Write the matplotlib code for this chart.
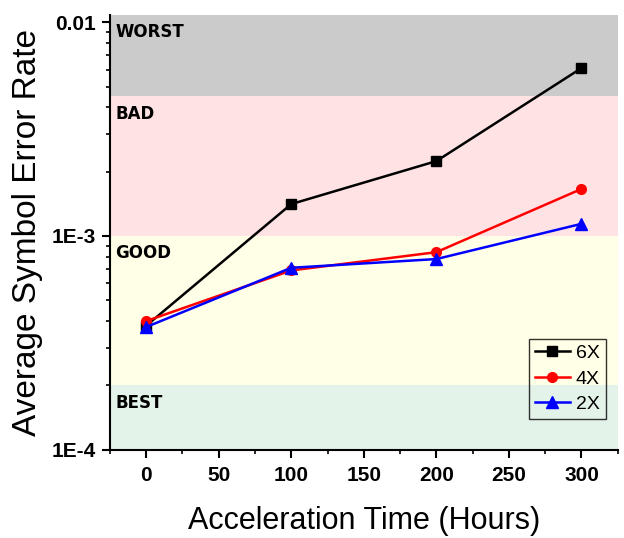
import matplotlib
matplotlib.use("Agg")
import matplotlib.pyplot as plt
from matplotlib.ticker import FixedLocator, FixedFormatter, MultipleLocator, LogLocator, NullFormatter

# acceleration time (hours) and average symbol error rate per speed-up factor
hours = [0, 100, 200, 300]
ser_6x = [3.8e-4, 1.41e-3, 2.24e-3, 6.1e-3]
ser_4x = [4.0e-4, 6.9e-4, 8.4e-4, 1.66e-3]
ser_2x = [3.75e-4, 7.1e-4, 7.8e-4, 1.14e-3]

# quality zones (lower edge, upper edge, label, colour)
zone_names = ["WORST", "BAD", "GOOD", "BEST"]
zone_edges = [(4.5e-3, 0.0108), (1e-3, 4.5e-3), (2e-4, 1e-3), (1e-4, 2e-4)]
zone_colors = ["#cbcbcb", "#ffe3e4", "#fffee6", "#e3f3ea"]

plt.rcParams['font.family'] = ['Liberation Sans', 'DejaVu Sans']

fig = plt.figure(figsize=(6.24, 5.38), dpi=100)
ax = fig.add_axes([0.176, 0.164, 0.814, 0.808])

xmin, xmax = -25, 325
for name, (lo, hi), col in zip(zone_names, zone_edges, zone_colors):
    ax.axhspan(lo, hi, color=col, lw=0, zorder=0)
    ax.annotate(name, xy=(xmin, hi), xytext=(4, -6), textcoords='offset points',
                ha='left', va='top', fontsize=12, fontweight='bold',
                family='DejaVu Sans')

ax.plot(hours, ser_6x, '-s', color='black', lw=1.8, ms=7, label='6X', zorder=3)
ax.plot(hours, ser_4x, '-o', color='red', lw=1.8, ms=7, label='4X', zorder=3)
ax.plot(hours, ser_2x, '-^', color='blue', lw=1.8, ms=8, label='2X', zorder=4)

ax.set_yscale('log')
ax.set_xlim(xmin, xmax)
ax.set_ylim(1e-4, 0.0108)

ax.xaxis.set_major_locator(FixedLocator([0, 50, 100, 150, 200, 250, 300]))
ax.xaxis.set_minor_locator(MultipleLocator(25))
ax.yaxis.set_major_locator(FixedLocator([1e-4, 1e-3, 1e-2]))
ax.yaxis.set_major_formatter(FixedFormatter(['1E-4', '1E-3', '0.01']))
ax.yaxis.set_minor_locator(LogLocator(base=10, subs=range(2, 10)))
ax.yaxis.set_minor_formatter(NullFormatter())

for s in ['top', 'right']:
    ax.spines[s].set_visible(False)
for s in ['left', 'bottom']:
    ax.spines[s].set_linewidth(1.5)

ax.tick_params(which='major', direction='out', length=6, width=1.5)
ax.tick_params(which='minor', direction='out', length=3, width=1.2)
ax.tick_params(axis='x', which='major', labelsize=15, pad=6)
ax.tick_params(axis='y', which='major', labelsize=15, pad=4)
for lab in ax.get_xticklabels() + ax.get_yticklabels():
    lab.set_fontweight('bold')

ax.set_xlabel('Acceleration Time (Hours)', fontsize=22, labelpad=15)
ax.set_ylabel('Average Symbol Error Rate', fontsize=24, labelpad=6)

leg = ax.legend(loc='lower right', bbox_to_anchor=(0.976, 0.071), fontsize=14,
                frameon=True, fancybox=False, handlelength=1.8,
                borderpad=0.3, labelspacing=0.4, handletextpad=0.3,
                borderaxespad=0.0)
leg.get_frame().set_facecolor('none')
leg.get_frame().set_edgecolor('black')
leg.get_frame().set_linewidth(1.0)

fig.savefig('out.png', dpi=100)
